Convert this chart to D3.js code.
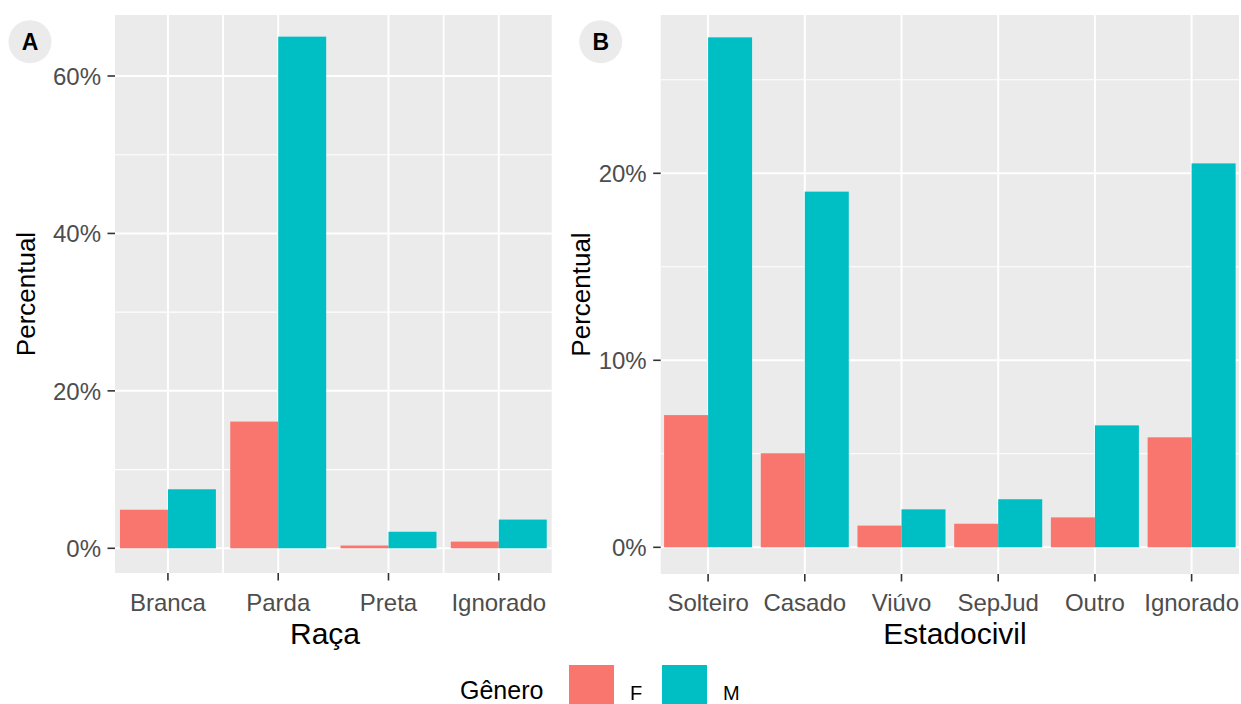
<!DOCTYPE html>
<html>
<head>
<meta charset="utf-8">
<script src="https://cdn.jsdelivr.net/npm/d3@7"></script>
<style>
  html, body { margin: 0; padding: 0; background: #ffffff; }
  svg { display: block; }
  text { font-family: "Liberation Sans", Arial, sans-serif; }
</style>
</head>
<body>
<svg id="chart" width="1241" height="704"></svg>
<script>
// ---------- DATA ----------
const genders = ["F", "M"];
const racaCategories = ["Branca", "Parda", "Preta", "Ignorado"];
const racaF = [4.9, 16.1, 0.35, 0.85];
const racaM = [7.5, 65.0, 2.1, 3.65];
const racaTicks = [0, 20, 40, 60];
const racaMinor = [10, 30, 50];

const civilCategories = ["Solteiro", "Casado", "Viúvo", "SepJud", "Outro", "Ignorado"];
const civilF = [7.07, 5.03, 1.16, 1.26, 1.60, 5.88];
const civilM = [27.27, 19.02, 2.03, 2.57, 6.52, 20.53];
const civilTicks = [0, 10, 20];
const civilMinor = [5, 15, 25];

const colors = { F: "#F8766D", M: "#00BFC4" };

// ---------- DRAW ----------
const svg = d3.select("#chart");
svg.append("rect").attr("width", 1241).attr("height", 704).attr("fill", "#ffffff");

function panel(opts) {
  const g = svg.append("g");
  const { x0, x1, top, bottom, zeroY, refVal, refY, cats, fVals, mVals, ticks, minor, pad, barFrac, extraV, title, titleX, yTitleX, tag, tagX } = opts;

  const x = d3.scalePoint().domain(cats).range([x0, x1]).padding(pad);
  const y = d3.scaleLinear().domain([0, refVal]).range([zeroY, refY]);
  const step = x.step();
  const bw = step * barFrac;

  // panel background
  g.append("rect").attr("x", x0).attr("y", top).attr("width", x1 - x0).attr("height", bottom - top).attr("fill", "#EBEBEB");

  // minor horizontal grid
  g.selectAll(".hmin").data(minor).enter().append("line")
    .attr("x1", x0).attr("x2", x1)
    .attr("y1", d => y(d)).attr("y2", d => y(d))
    .attr("stroke", "#ffffff").attr("stroke-width", 1.1);
  // major horizontal grid
  g.selectAll(".hmaj").data(ticks).enter().append("line")
    .attr("x1", x0).attr("x2", x1)
    .attr("y1", d => y(d)).attr("y2", d => y(d))
    .attr("stroke", "#ffffff").attr("stroke-width", 2);
  // extra vertical lines (between categories)
  g.selectAll(".vext").data(extraV).enter().append("line")
    .attr("x1", d => x(cats[d]) + step / 2).attr("x2", d => x(cats[d]) + step / 2)
    .attr("y1", top).attr("y2", bottom)
    .attr("stroke", "#ffffff").attr("stroke-width", 1.8);
  // vertical grid at categories
  g.selectAll(".vmaj").data(cats).enter().append("line")
    .attr("x1", d => x(d)).attr("x2", d => x(d))
    .attr("y1", top).attr("y2", bottom)
    .attr("stroke", "#ffffff").attr("stroke-width", 2);

  // bars
  const rows = cats.map((c, i) => ({ c, F: fVals[i], M: mVals[i] }));
  genders.forEach((gname, gi) => {
    g.selectAll(".bar" + gname).data(rows).enter().append("rect")
      .attr("x", d => x(d.c) - bw / 2 + gi * bw / 2)
      .attr("width", bw / 2)
      .attr("y", d => y(d[gname]))
      .attr("height", d => y(0) - y(d[gname]))
      .attr("fill", colors[gname]);
  });

  // y axis ticks & labels
  g.selectAll(".ytick").data(ticks).enter().append("line")
    .attr("x1", x0 - 7.5).attr("x2", x0)
    .attr("y1", d => y(d)).attr("y2", d => y(d))
    .attr("stroke", "#333333").attr("stroke-width", 1.6);
  g.selectAll(".ylab").data(ticks).enter().append("text")
    .attr("x", x0 - 14).attr("y", d => y(d))
    .attr("dy", "0.36em")
    .attr("text-anchor", "end")
    .attr("font-size", 24)
    .attr("fill", "#4D4D4D")
    .text(d => d + "%");

  // x axis ticks & labels
  g.selectAll(".xtick").data(cats).enter().append("line")
    .attr("x1", d => x(d)).attr("x2", d => x(d))
    .attr("y1", bottom).attr("y2", bottom + 7.5)
    .attr("stroke", "#333333").attr("stroke-width", 1.6);
  g.selectAll(".xlab").data(cats).enter().append("text")
    .attr("x", d => x(d)).attr("y", 611)
    .attr("text-anchor", "middle")
    .attr("font-size", 24)
    .attr("fill", "#4D4D4D")
    .text(d => d);

  // axis titles
  g.append("text").attr("x", titleX).attr("y", 644)
    .attr("text-anchor", "middle").attr("font-size", 30).attr("fill", "#000")
    .text(title);
  g.append("text")
    .attr("transform", `translate(${yTitleX},${(top + bottom) / 2}) rotate(-90)`)
    .attr("text-anchor", "middle").attr("font-size", 26).attr("fill", "#000")
    .text("Percentual");

  // tag
  g.append("circle").attr("cx", tagX).attr("cy", 41.7).attr("r", 21.5).attr("fill", "#EBEBEB");
  g.append("text").attr("x", tagX).attr("y", 41.7).attr("dy", "0.36em")
    .attr("text-anchor", "middle").attr("font-size", 23).attr("font-weight", "bold")
    .attr("fill", "#000").text(tag);
}

panel({
  x0: 115, x1: 551.7, top: 15, bottom: 573, zeroY: 548.3, refVal: 60, refY: 76,
  cats: racaCategories, fVals: racaF, mVals: racaM, ticks: racaTicks, minor: racaMinor,
  pad: 0.48, barFrac: 0.87, extraV: [0, 2], title: "Raça", titleX: 325, yTitleX: 35,
  tag: "A", tagX: 30
});

panel({
  x0: 660.7, x1: 1239, top: 15, bottom: 574, zeroY: 547.3, refVal: 20, refY: 173.3,
  cats: civilCategories, fVals: civilF, mVals: civilM, ticks: civilTicks, minor: civilMinor,
  pad: 0.49, barFrac: 0.91, extraV: [], title: "Estadocivil", titleX: 955, yTitleX: 590,
  tag: "B", tagX: 600.7
});

// legend
const leg = svg.append("g");
leg.append("text").attr("x", 460).attr("y", 699).attr("font-size", 25).attr("fill", "#000").text("Gênero");
const legX = d3.scalePoint().domain(genders).range([569, 662]);
leg.selectAll(".sw").data(genders).enter().append("rect")
  .attr("x", d => legX(d)).attr("y", 665).attr("width", 45).attr("height", 45)
  .attr("fill", d => colors[d]);
leg.selectAll(".lt").data(genders).enter().append("text")
  .attr("x", d => legX(d) + 61).attr("y", 700).attr("font-size", 20).attr("fill", "#000")
  .text(d => d);
</script>
</body>
</html>
